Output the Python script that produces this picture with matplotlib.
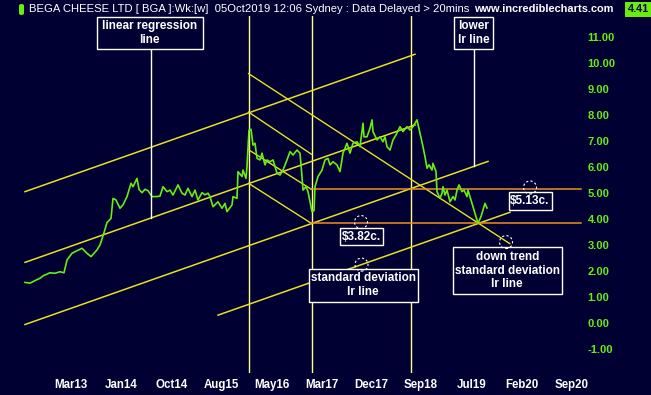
import matplotlib
matplotlib.use('Agg')
import matplotlib.pyplot as plt
from matplotlib.patches import Rectangle, Ellipse, FancyBboxPatch

# ---------------- data ----------------
bar_index = [25, 30, 35, 40, 43, 50, 55, 60, 64, 67, 72, 77, 82, 87, 91, 97, 100, 104, 107, 111,
             113, 116, 120, 123, 127, 131, 133, 137, 139, 142, 145, 148, 152, 157, 160, 163, 167,
             170, 173, 178, 182, 185, 188, 192, 195, 198, 202, 205, 208, 210, 213, 218, 222, 225,
             227, 232, 233, 237, 238, 242, 243, 246, 247, 249, 251, 253, 255, 257, 260, 262, 265,
             267, 270, 273, 277, 280, 283, 287, 290, 293, 297, 300, 302, 303, 306, 308, 312, 314,
             315, 318, 322, 325, 328, 330, 333, 337, 340, 343, 347, 350, 353, 357, 360, 363, 364,
             367, 370, 372, 373, 377, 380, 383, 385, 387, 390, 393, 396, 400, 403, 407, 410, 413,
             417, 420, 423, 425, 427, 429, 432, 433, 436, 437, 440, 442, 443, 445, 447, 450, 453,
             455, 457, 459, 462, 464, 467, 468, 471, 473, 476, 478, 481, 483, 485, 487]
close = [1.55, 1.52, 1.62, 1.71, 1.80, 1.92, 1.90, 1.96, 1.92, 2.41, 2.67, 2.77, 2.86, 2.67, 2.54,
         2.80, 2.99, 3.46, 3.85, 4.01, 4.78, 4.72, 4.40, 4.53, 4.85, 5.36, 5.23, 5.55, 5.13, 5.00,
         5.13, 5.08, 4.85, 4.85, 4.87, 5.23, 5.04, 5.10, 4.91, 5.30, 4.98, 4.91, 5.17, 4.85, 5.10,
         4.72, 5.00, 4.92, 4.98, 4.85, 4.46, 4.65, 4.40, 4.59, 4.27, 4.53, 4.85, 4.78, 5.81, 5.62,
         5.87, 5.55, 6.00, 7.41, 7.44, 6.83, 6.90, 6.32, 6.26, 6.52, 6.07, 6.26, 6.19, 6.26, 5.75,
         5.68, 5.87, 6.26, 6.58, 6.45, 6.64, 6.52, 5.62, 5.10, 5.23, 5.04, 4.27, 4.31, 5.23, 5.62,
         5.87, 6.26, 6.32, 6.07, 6.19, 6.07, 5.81, 6.52, 6.90, 6.52, 6.90, 6.96, 6.77, 7.67, 7.15,
         7.15, 7.48, 7.80, 7.35, 7.03, 7.15, 6.96, 7.15, 6.77, 6.64, 7.03, 7.22, 7.54, 7.35, 7.54,
         7.41, 7.54, 7.80, 7.28, 6.77, 6.38, 5.94, 6.07, 5.87, 6.13, 5.81, 5.04, 4.78, 4.98, 5.23,
         4.91, 5.10, 4.65, 4.85, 4.72, 5.10, 5.30, 5.04, 5.10, 4.85, 5.10, 4.72, 4.46, 4.08, 3.82,
         4.08, 4.34, 4.59, 4.41]

x_tick_pos = [71, 121, 171.5, 221.5, 272, 321.5, 371.5, 421, 471.5, 521.5, 571.5]
x_tick_labels = ['Mar13', 'Jan14', 'Oct14', 'Aug15', 'May16', 'Mar17', 'Dec17', 'Sep18',
                 'Jul19', 'Feb20', 'Sep20']
y_ticks = [-1, 0, 1, 2, 3, 4, 5, 6, 7, 8, 9, 10, 11]

# up-trend channel lines (common slope, price per bar)
channel_slope = 0.01355
channel_start_x = [25, 25, 25, 218]
channel_start_price = [5.04, 2.32, -0.07, 0.29]
channel_end_x = [415, 415, 488, 510]

# down-trend lines
down_start_x = [248.6, 248.6, 248.6, 248.6]
down_start_price = [9.58, 8.10, 6.65, 5.36]
down_end_x = [509.8, 311.4, 311.4, 311.4]
down_end_price = [3.04, 6.48, 5.13, 3.82]

vertical_x = [249, 311.5, 410.5]
levels = [5.13, 3.82]
level_start_x = 311.4
level_end_x = 581
last_price = 4.41

title = 'BEGA CHEESE LTD [ BGA ]:Wk:[w]  05Oct2019 12:06 Sydney : Data Delayed > 20mins'

# ---------------- style ----------------
BG = '#000033'
GREEN = '#66ee11'
YEL = '#e8e020'
VYEL = '#ffff88'
ORANGE = '#f09020'
W, H = 651, 395

plt.rcParams['font.family'] = ['Liberation Sans', 'DejaVu Sans']

fig = plt.figure(figsize=(W / 100, H / 100), dpi=100, facecolor=BG)
ax = fig.add_axes([0, 22 / H, 582 / W, 357 / H], facecolor=BG)
for s in ax.spines.values():
    s.set_visible(False)
ax.set_xlim(0, 582)
ax.set_ylim(-1.935, 11.796)
PXY = 26.0  # pixels per price unit

# verticals
for vx in vertical_x:
    ax.axvline(vx, color=VYEL, lw=1.0, zorder=2)

# channel lines
for x0, p0, x1 in zip(channel_start_x, channel_start_price, channel_end_x):
    ax.plot([x0, x1], [p0, p0 + channel_slope * (x1 - x0)], color=YEL, lw=1.1, zorder=3)

# downtrend lines
for x0, p0, x1, p1 in zip(down_start_x, down_start_price, down_end_x, down_end_price):
    ax.plot([x0, x1], [p0, p1], color=YEL, lw=1.0, zorder=3)

# support / resistance levels
for lv in levels:
    ax.plot([level_start_x, level_end_x], [lv, lv], color=ORANGE, lw=1.1, zorder=3)

# price
ax.plot(bar_index, close, color=GREEN, lw=1.2, zorder=4)


def chan(i, x):
    return channel_start_price[i] + channel_slope * (x - channel_start_x[i])


def box(x0, x1, ptop, pbot, text):
    ax.add_patch(Rectangle((x0, pbot), x1 - x0, ptop - pbot, facecolor=BG,
                           edgecolor='white', lw=1.0, zorder=6))
    ax.text((x0 + x1) / 2, (ptop + pbot) / 2, text, color='white', fontsize=8.5,
            fontweight='bold', ha='center', va='center', multialignment='center',
            linespacing=1.2, zorder=7)


def circle(cx, cy, r=6.5):
    ax.add_patch(Ellipse((cx, cy), 2 * r, 2 * r / PXY, fill=False, edgecolor='white',
                         lw=0.8, ls=(0, (2, 2)), zorder=6))


# callouts
box(96.5, 203, 11.77, 10.51, 'linear regression\nline')
ax.plot([150.5, 150.5], [10.51, chan(1, 150.5)], color='white', lw=1.0, zorder=5)

box(454, 493, 11.77, 10.51, 'lower\nlr line')
ax.plot([474, 474], [10.51, chan(2, 474)], color='white', lw=1.0, zorder=5)

box(339.5, 382.5, 3.64, 2.99, '$3.82c.')
circle(361, 3.87)

box(308.5, 418, 2.08, 0.80, 'standard deviation\nlr line')
circle(361.5, chan(3, 361.5))

box(508.5, 551.5, 5.03, 4.35, '$5.13c.')
circle(530, 5.20)

box(452.5, 562, 2.91, 1.10, 'down trend\nstandard deviation\nlr line')
circle(506, 3.10)

# axes ticks
ax.set_xticks(x_tick_pos)
ax.set_xticklabels(x_tick_labels, fontweight='bold')
ax.tick_params(axis='x', length=0, pad=4, labelcolor='white', labelsize=8.3)
ax.yaxis.tick_right()
ax.set_yticks(y_ticks)
ax.set_yticklabels(['%.2f' % v for v in y_ticks], fontweight='bold')
ax.tick_params(axis='y', length=0, pad=4, labelcolor=GREEN, labelsize=8)

# header
fig.patches.append(FancyBboxPatch((19 / W, 1 - 15 / H), 5 / W, 11 / H,
                                  boxstyle='round,pad=0,rounding_size=0.004',
                                  transform=fig.transFigure, facecolor=GREEN,
                                  edgecolor='none'))
fig.text(29 / W, 1 - 9 / H, title, color='white', fontsize=8.1, va='center', ha='left')
fig.text(474 / W, 1 - 8.5 / H, 'www.incrediblecharts.com', color='white', fontsize=7.9,
         fontweight='bold', va='center', ha='left')
fig.patches.append(Rectangle((625 / W, 1 - 17 / H), 26 / W, 15 / H,
                             transform=fig.transFigure, facecolor=GREEN, edgecolor='none'))
fig.text(638 / W, 1 - 9.5 / H, '%.2f' % last_price, color=BG, fontsize=7.8,
         fontweight='bold', va='center', ha='center')

fig.savefig('out.png', dpi=100, facecolor=BG)
